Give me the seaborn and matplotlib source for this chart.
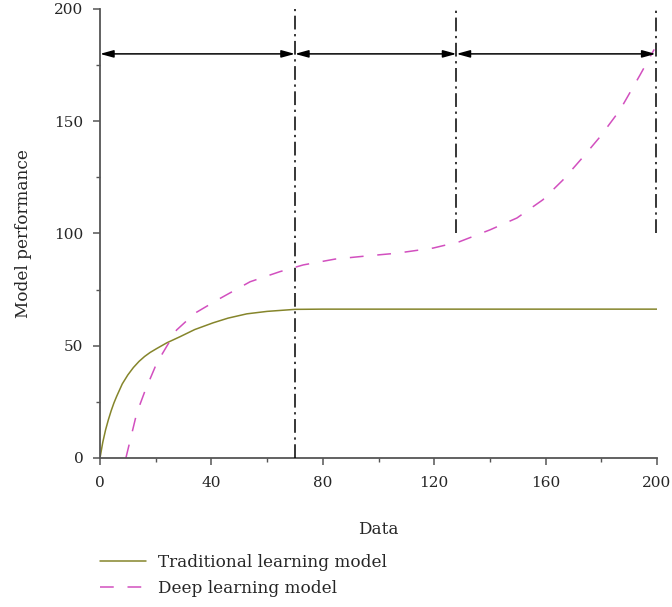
import numpy as np
import pandas as pd
import seaborn as sns
import matplotlib.pyplot as plt
from matplotlib.ticker import MultipleLocator

# values
trad_x = [0, 0.5, 1, 2, 3, 4, 5, 6, 8, 10, 12, 14, 16, 18, 20.3, 24, 28.7, 34, 40.6, 46, 52.7, 60, 70, 80, 100, 150, 200]
trad_y = [0, 3.5, 7, 12.5, 17, 21, 24.5, 27.5, 33, 37, 40.3, 43, 45.2, 47, 48.7, 51.3, 54, 57.2, 60.2, 62.3, 64.2, 65.3, 66.2, 66.3, 66.3, 66.3, 66.3]

deep_x = [9.3, 13.2, 16.2, 20.4, 23.9, 27.5, 34.1, 43, 53.9, 64.6, 73, 84.4, 95.8, 106.5,
          119.6, 129, 140, 149.7, 159, 166.2, 173.4, 179.5, 186.7, 193.9, 199]
deep_y = [0, 20, 30, 42.3, 49.6, 57, 64.5, 71, 78.5, 83, 86, 88.6, 90, 91.2,
          93.5, 96.3, 101.6, 106.9, 115, 123.8, 134, 143, 155, 170.6, 182]

# stage boundaries and arrow height
bounds = [0, 70, 128, 199.5]
vline_x = [70, 128, 199.5]
vline_lo = [0, 100, 100]
vline_hi = [200, 200, 200]
arrow_y = 180

sns.set_style("ticks")
plt.rcParams['font.family'] = ['DejaVu Serif']

fig = plt.figure(figsize=(6.72, 6.07), dpi=100)
ax = fig.add_axes([0.1488, 0.2455, 0.8289, 0.7397])

trad = pd.DataFrame({"x": trad_x, "y": trad_y})
deep = pd.DataFrame({"x": deep_x, "y": deep_y})

sns.lineplot(data=trad, x="x", y="y", ax=ax, color="#85852b", linewidth=1.1,
             label="Traditional learning model")
sns.lineplot(data=deep, x="x", y="y", ax=ax, color="#d24fbf", linewidth=1.1,
             linestyle=(0, (9, 9)), label="Deep learning model")

for xv, lo, hi in zip(vline_x, vline_lo, vline_hi):
    ax.plot([xv, xv], [lo, hi], color="black", linewidth=1.1,
            linestyle=(0, (9, 3, 1.5, 3)), zorder=3)

for a, b in zip(bounds[:-1], bounds[1:]):
    ax.annotate("", xy=(b, arrow_y), xytext=(a, arrow_y),
                arrowprops=dict(arrowstyle="<|-|>,head_length=0.8,head_width=0.22",
                                color="black", lw=1.1, shrinkA=0, shrinkB=0))

ax.set_xlim(0, 200)
ax.set_ylim(0, 200)
ax.xaxis.set_major_locator(MultipleLocator(40))
ax.xaxis.set_minor_locator(MultipleLocator(20))
ax.yaxis.set_major_locator(MultipleLocator(50))
ax.yaxis.set_minor_locator(MultipleLocator(25))
ax.tick_params(which="major", length=5, width=1.1, color="#555555", labelsize=11)
ax.tick_params(axis="x", which="major", pad=8)
ax.tick_params(axis="y", which="major", pad=7)
ax.tick_params(which="minor", length=3, width=1.0, color="#555555")
sns.despine(ax=ax)
for s in ["left", "bottom"]:
    ax.spines[s].set_color("#555555")
    ax.spines[s].set_linewidth(1.3)

ax.set_xlabel("Data", fontsize=12.2, labelpad=22)
ax.set_ylabel("Model performance", fontsize=12.2, labelpad=16)

ax.legend(loc="upper left", bbox_to_anchor=(0.149, 0.087), bbox_transform=fig.transFigure,
          frameon=False, fontsize=12.2, handlelength=2.7, handletextpad=0.7,
          labelspacing=0.5, borderaxespad=0, borderpad=0)

fig.savefig("out.png", dpi=100)
